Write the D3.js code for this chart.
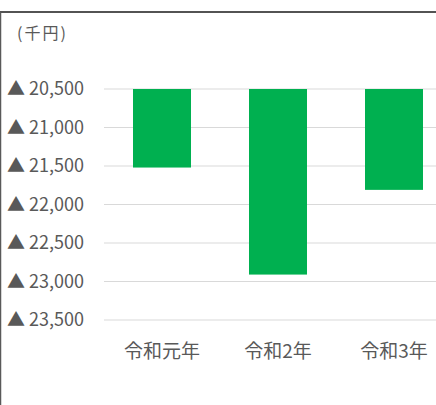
<!DOCTYPE html>
<html>
<head>
<meta charset="utf-8">
<script src="https://cdn.jsdelivr.net/npm/d3@7"></script>
<style>
  body { margin: 0; background: #fff; }
  svg { display: block; font-family: "Noto Sans CJK JP", "Noto Sans", sans-serif; }
</style>
</head>
<body>
<div id="chart"></div>
<script>
// Data (千円, shown as ▲ = negative)
const categories = ["令和元年", "令和2年", "令和3年"];
const values = [21520, 22910, 21810];
const yTicks = [20500, 21000, 21500, 22000, 22500, 23000, 23500];

const W = 436, H = 405;
const margin = {top: 89, left: 104, right: -16, bottom: 85};

const svg = d3.select("#chart").append("svg")
  .attr("width", W)
  .attr("height", H);

// Frame (top and left edges visible)
svg.append("line")
  .attr("x1", 0).attr("x2", W).attr("y1", 12).attr("y2", 12)
  .attr("stroke", "#1a1a1a").attr("stroke-width", 1.5);
svg.append("line")
  .attr("x1", 0.5).attr("x2", 0.5).attr("y1", 12).attr("y2", H)
  .attr("stroke", "#595959").attr("stroke-width", 1.5);

// Scales
const x = d3.scaleBand()
  .domain(categories)
  .range([margin.left, W - margin.right])
  .paddingInner(0.5)
  .paddingOuter(0.25);

const y = d3.scaleLinear()
  .domain([20500, 23500])
  .range([margin.top, H - margin.bottom]);

// Gridlines
svg.append("g")
  .selectAll("line")
  .data(yTicks)
  .join("line")
  .attr("x1", margin.left)
  .attr("x2", W)
  .attr("y1", d => y(d))
  .attr("y2", d => y(d))
  .attr("stroke", "#d9d9d9")
  .attr("stroke-width", 1);

// Y axis labels
const fmt = d3.format(",");
svg.append("g")
  .selectAll("text")
  .data(yTicks)
  .join("text")
  .attr("x", 84)
  .attr("y", d => y(d))
  .attr("dy", "0.35em")
  .attr("text-anchor", "end")
  .attr("fill", "#595959")
  .style("font-size", "18px")
  .text(d => "▲ " + fmt(d));

// Bars (hang down from 20,500)
svg.append("g")
  .selectAll("rect")
  .data(values)
  .join("rect")
  .attr("x", (d, i) => x(categories[i]))
  .attr("width", x.bandwidth())
  .attr("y", y(20500))
  .attr("height", d => y(d) - y(20500))
  .attr("fill", "#00b050");

// Category labels
svg.append("g")
  .selectAll("text")
  .data(categories)
  .join("text")
  .attr("x", d => x(d) + x.bandwidth() / 2)
  .attr("y", 351)
  .attr("dy", "0.35em")
  .attr("text-anchor", "middle")
  .attr("fill", "#595959")
  .style("font-size", "19px")
  .text(d => d);

// Unit label
svg.append("text")
  .attr("x", 17)
  .attr("y", 33)
  .attr("dy", "0.35em")
  .attr("fill", "#595959")
  .style("font-size", "16px")
  .style("letter-spacing", "2px")
  .text("(千円)");
</script>
</body>
</html>
